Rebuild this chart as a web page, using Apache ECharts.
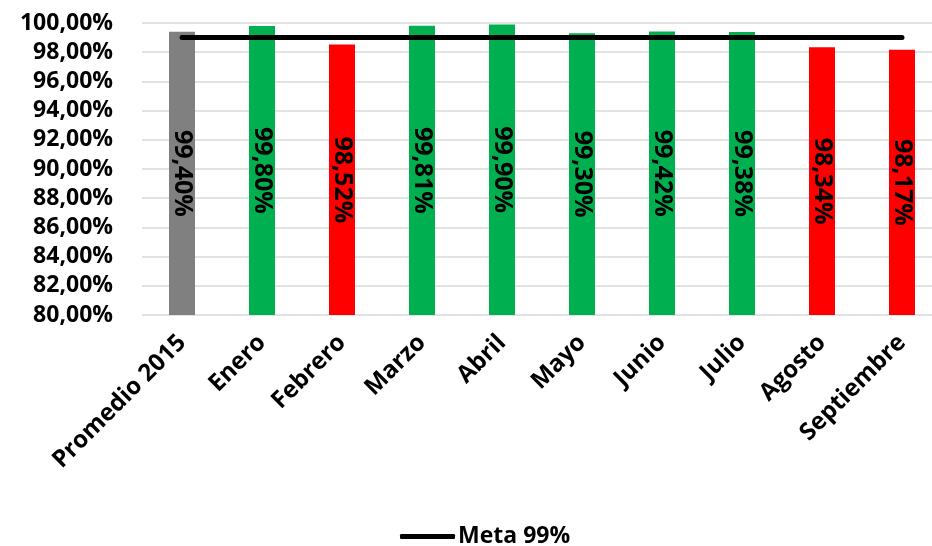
<!DOCTYPE html>
<html>
<head>
<meta charset="utf-8">
<script src="https://cdn.jsdelivr.net/npm/echarts@6/dist/echarts.min.js"></script>
<style>
  html, body { margin: 0; padding: 0; background: #fff; }
  #chart { width: 932px; height: 546px; }
</style>
</head>
<body>
<div id="chart"></div>
<script>
// Monthly compliance vs. the 99% target
const categories = ['Promedio 2015', 'Enero', 'Febrero', 'Marzo', 'Abril', 'Mayo', 'Junio', 'Julio', 'Agosto', 'Septiembre'];
const values = [99.40, 99.80, 98.52, 99.81, 99.90, 99.30, 99.42, 99.38, 98.34, 98.17];
const barColors = ['#808080', '#00B050', '#FF0000', '#00B050', '#00B050', '#00B050', '#00B050', '#00B050', '#FF0000', '#FF0000'];
const metaValues = [99, 99, 99, 99, 99, 99, 99, 99, 99, 99];
const metaName = 'Meta 99%';

const FONT = '"Open Sans", sans-serif';
const pct = v => v.toFixed(2).replace('.', ',') + '%';

const chart = echarts.init(document.getElementById('chart'));
chart.setOption({
  animation: false,
  grid: { left: 142, width: 800, top: 23, height: 292, containLabel: false, outerBoundsMode: 'none' },
  legend: {
    show: true,
    orient: 'horizontal',
    data: [{ name: metaName, icon: 'roundRect' }],
    top: 520,
    left: 395,
    itemWidth: 55,
    itemHeight: 5,
    itemGap: 4,
    itemStyle: { color: '#000', borderWidth: 0 },
    textStyle: { fontFamily: FONT, fontWeight: 'bold', fontSize: 23, color: '#000', padding: [0, 0, 0, -2] }
  },
  xAxis: {
    type: 'category',
    data: categories,
    axisLine: { show: false },
    axisTick: { show: false },
    axisLabel: {
      rotate: 45,
      interval: 0,
      margin: 24,
      fontFamily: FONT,
      fontWeight: 'bold',
      fontSize: 24,
      color: '#000'
    }
  },
  yAxis: {
    type: 'value',
    min: 80,
    max: 100,
    interval: 2,
    axisLine: { show: false },
    axisTick: { show: false },
    splitLine: { lineStyle: { color: '#D9D9D9', width: 1.5 } },
    axisLabel: {
      margin: 29,
      formatter: pct,
      fontFamily: FONT,
      fontWeight: 'bold',
      fontSize: 23,
      color: '#000'
    }
  },
  series: [
    {
      type: 'bar',
      data: values.map((v, i) => ({ value: v, itemStyle: { color: barColors[i] } })),
      barWidth: 26,
      label: {
        show: true,
        position: 'inside',
        rotate: -90,
        formatter: p => pct(p.value),
        fontFamily: FONT,
        fontWeight: 'bold',
        fontSize: 25,
        color: '#000'
      }
    },
    {
      name: metaName,
      type: 'line',
      data: metaValues,
      symbol: 'none',
      showSymbol: false,
      label: { show: false },
      endLabel: { show: false },
      lineStyle: { color: '#000', width: 5, cap: 'round' },
      itemStyle: { color: '#000' },
      z: 5
    }
  ]
});
</script>
</body>
</html>
